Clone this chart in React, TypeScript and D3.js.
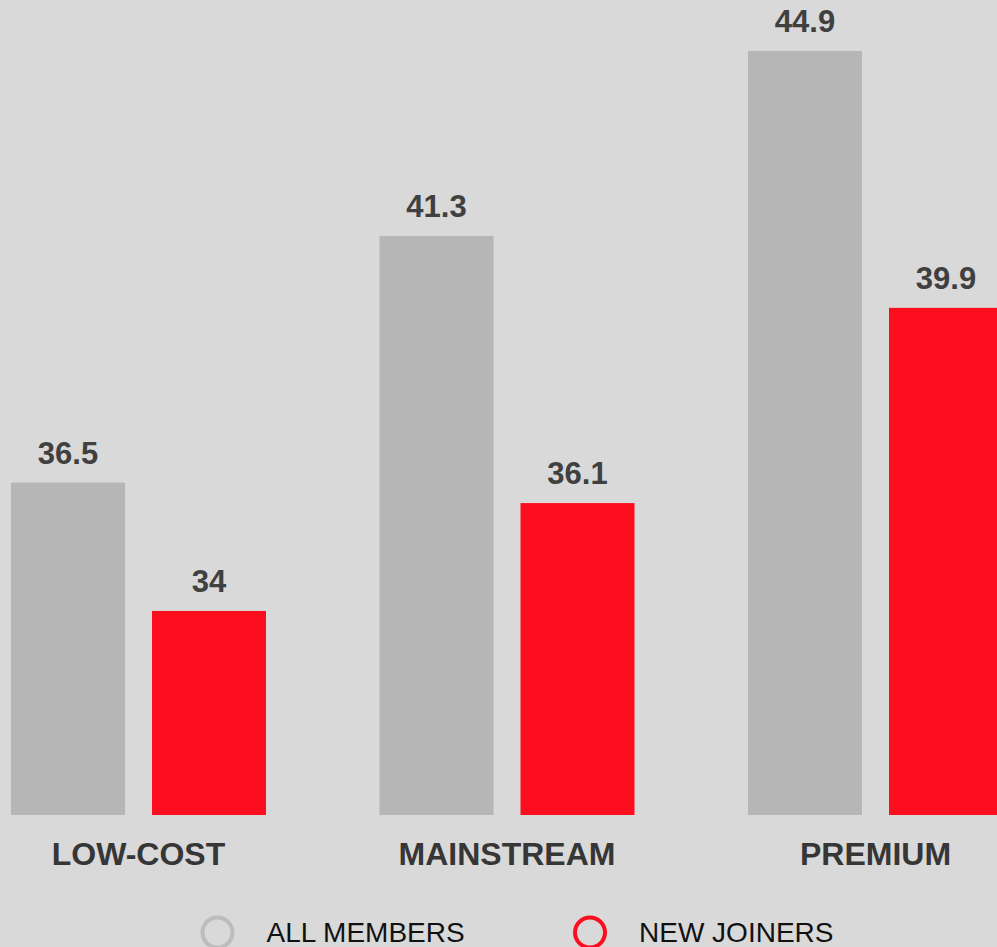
import React from "react";
import * as d3 from "d3";

const categories = ["LOW-COST", "MAINSTREAM", "PREMIUM"];
const seriesNames = ["ALL MEMBERS", "NEW JOINERS"];
const allMembers = [36.5, 41.3, 44.9];
const newJoiners = [34, 36.1, 39.9];
const seriesColors = ["#b6b6b6", "#fd0e1e"];
const legendColors = ["#bdbdbd", "#fd0e1e"];

const W = 997;
const H = 947;
const plotBottom = 815;

export default function App() {
  const values = [allMembers, newJoiners];
  const x0 = d3
    .scaleBand<string>()
    .domain(categories)
    .range([-45.75, 1059.75])
    .paddingInner(0.308)
    .paddingOuter(0.154);
  const x1 = d3
    .scaleBand<string>()
    .domain(seriesNames)
    .range([0, x0.bandwidth()])
    .paddingInner(0.1915)
    .paddingOuter(0);
  const y = d3.scaleLinear().domain([30, 45]).range([816.5, 45.8]);

  const font = "'Liberation Sans', Arial, Helvetica, sans-serif";
  const legendX = [217.5, 590];

  return (
    <svg
      width={W}
      height={H}
      style={{ position: "fixed", left: 0, top: 0, display: "block" }}
      fontFamily={font}
    >
      <rect x={0} y={0} width={W} height={H} fill="#d9d9d9" />
      {categories.map((c, ci) => (
        <g key={c} transform={`translate(${x0(c)},0)`}>
          {seriesNames.map((s, si) => {
            const v = values[si][ci];
            const bx = x1(s)!;
            const by = y(v);
            return (
              <g key={s}>
                <rect
                  x={bx}
                  y={by}
                  width={x1.bandwidth()}
                  height={plotBottom - by}
                  fill={seriesColors[si]}
                />
                <text
                  x={bx + x1.bandwidth() / 2}
                  y={by - 19}
                  textAnchor="middle"
                  fontSize={31}
                  fontWeight="bold"
                  fill="#404040"
                >
                  {String(v)}
                </text>
              </g>
            );
          })}
          <text
            x={x0.bandwidth() / 2}
            y={865}
            textAnchor="middle"
            fontSize={32}
            fontWeight="bold"
            fill="#363636"
          >
            {c}
          </text>
        </g>
      ))}
      {seriesNames.map((s, si) => (
        <g key={s} transform={`translate(${legendX[si]},932.5)`}>
          <circle r={15} fill="none" stroke={legendColors[si]} strokeWidth={4} />
          <text x={49} y={9.5} fontSize={28} fill="#111111">
            {s}
          </text>
        </g>
      ))}
    </svg>
  );
}
